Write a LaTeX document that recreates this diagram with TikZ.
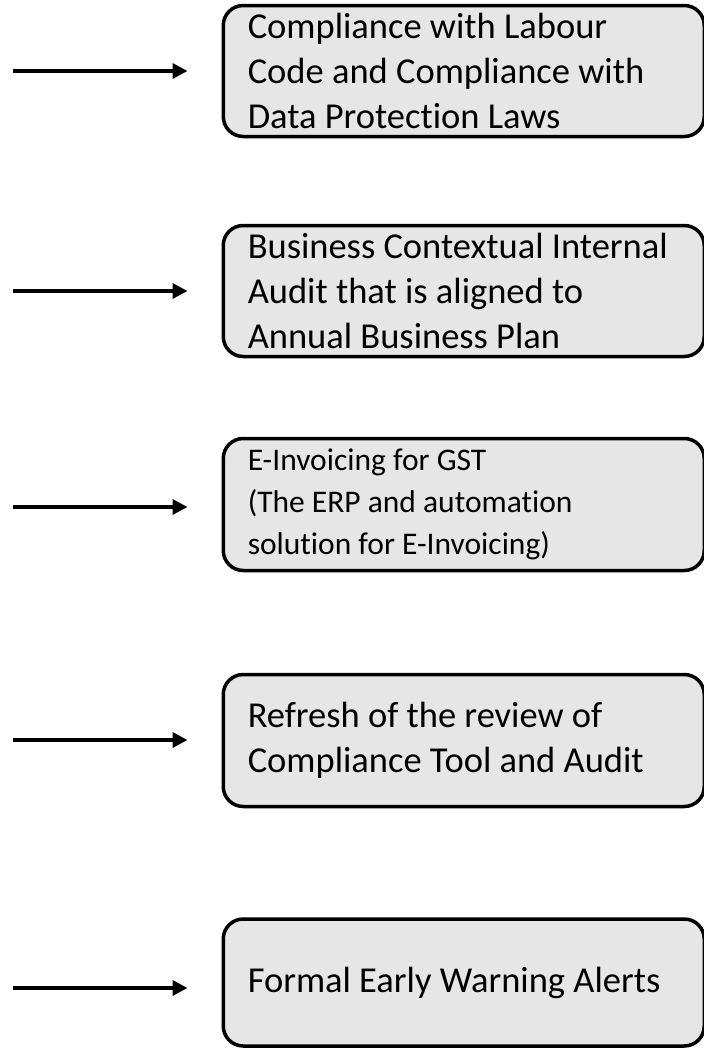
\documentclass[tikz,border=0pt]{standalone}
\usepackage{fontspec}
\setmainfont{Carlito}[Ligatures=CommonOff]
\usepackage{tikz}
\usetikzlibrary{arrows.meta,positioning}
\definecolor{boxgray}{RGB}{230,230,230}

\begin{document}
\begin{tikzpicture}[x=1pt, y=-1pt, >={Triangle[length=15pt,width=15pt]},
  item/.style={draw, line width=3.5pt, fill=boxgray, rounded corners=20pt,
    minimum width=481pt, text width=432pt, inner xsep=24.5pt, align=flush left,
    anchor=west, font=\fontsize{36.5}{45}\selectfont},
  feed/.style={->, line width=3.5pt, shorten >=34pt}]

  \useasboundingbox (0,0) rectangle (704,1050);

  % Define coordinates for nodes
  \node[item, minimum height=131pt] (c1) at (221.5,71)
    {Compliance with Labour\\Code and Compliance with\\Data Protection Laws};
  \node[item, minimum height=131pt] (c2) at (221.5,291)
    {\mbox{Business Contextual Internal}\\Audit that is aligned to\\Annual Business Plan};
  \node[item, minimum height=132pt, font=\fontsize{31.5}{42}\selectfont] (c3) at (221.5,504.5)
    {E-Invoicing for GST\\(The ERP and automation\\solution for E-Invoicing)};
  \node[item, minimum height=132pt] (c4) at (221.5,740.5)
    {Refresh of the review of\\Compliance Tool and Audit};
  \node[item, minimum height=127pt] (c5) at (221.5,982.5)
    {Formal Early Warning Alerts};

  \coordinate (s1) at (13,71);
  \coordinate (s2) at (13,291);
  \coordinate (s3) at (13,507);
  \coordinate (s4) at (13,740);
  \coordinate (s5) at (13,988);

  % Draw arrows towards the boxes
  \draw[feed] (s1) -- (c1.west |- s1);
  \draw[feed] (s2) -- (c2.west |- s2);
  \draw[feed] (s3) -- (c3.west |- s3);
  \draw[feed] (s4) -- (c4.west |- s4);
  \draw[feed] (s5) -- (c5.west |- s5);
\end{tikzpicture}
\end{document}
